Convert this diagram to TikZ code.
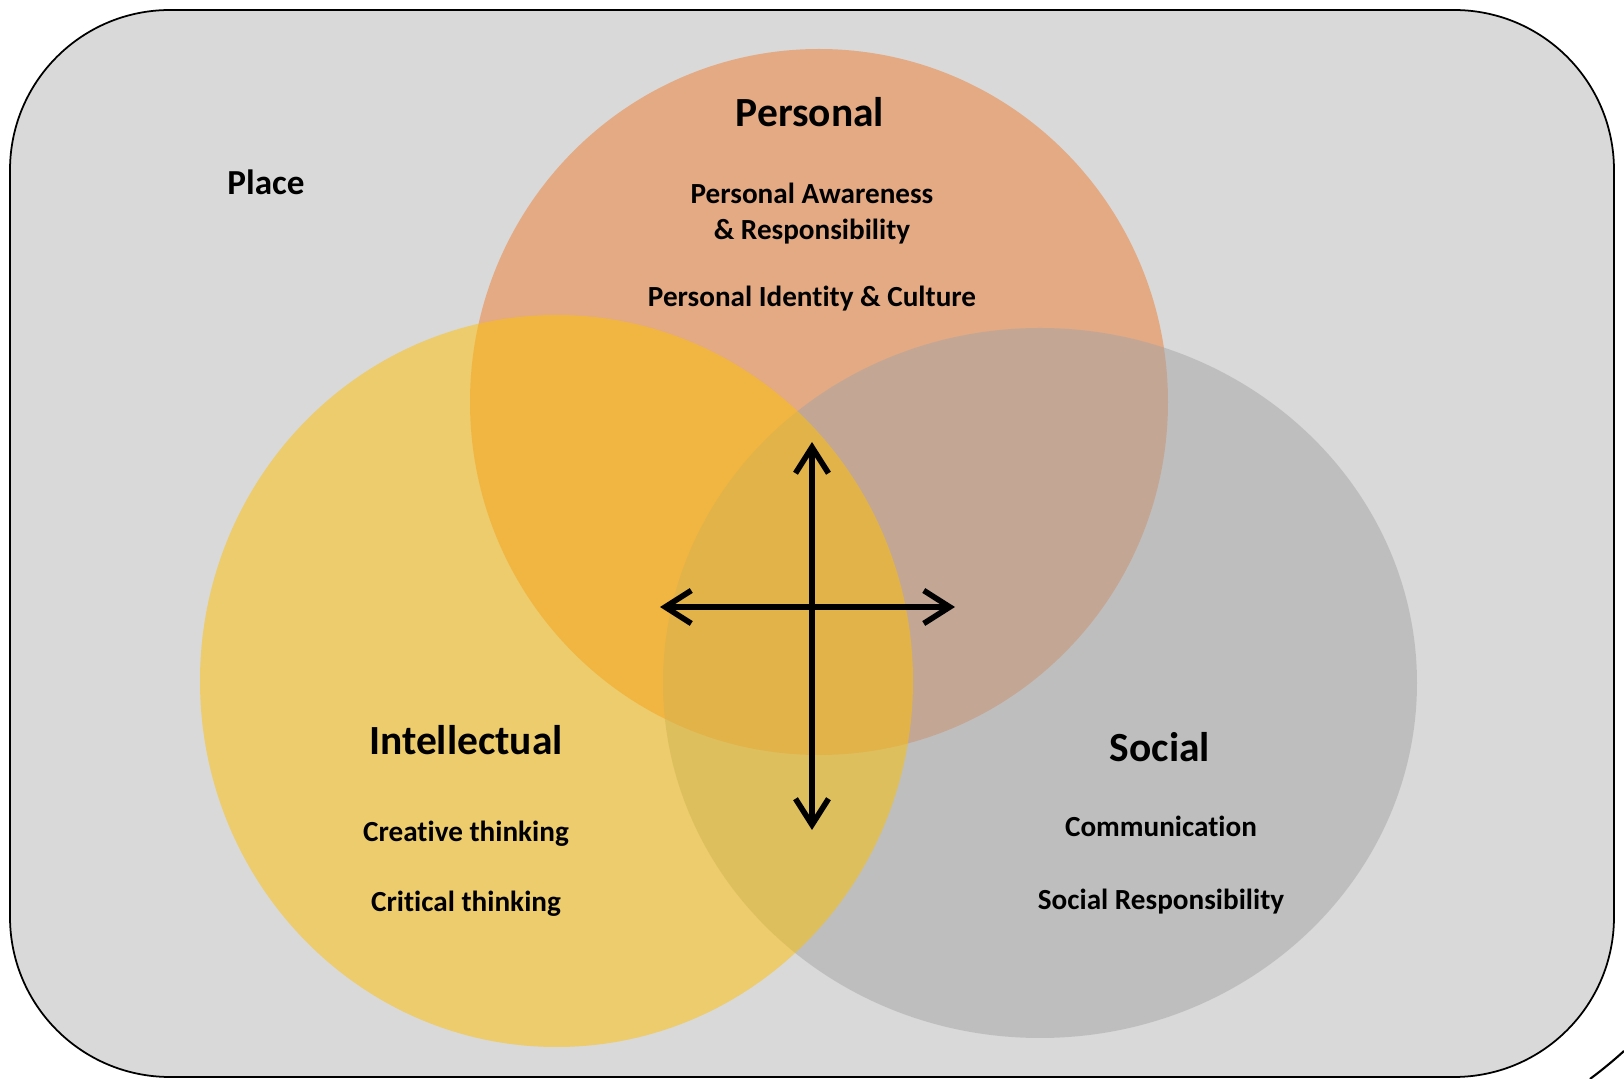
\documentclass[tikz,border=0pt]{standalone}
\usepackage{fontspec}
\setmainfont[Ligatures=NoCommon]{Carlito}
\usetikzlibrary{arrows.meta}
\definecolor{placegrey}{RGB}{217,217,217}
\definecolor{personal}{RGB}{237,125,49}
\definecolor{social}{RGB}{165,165,165}
\definecolor{intellectual}{RGB}{255,192,0}

\begin{document}
\begin{tikzpicture}[inner sep=0mm,
  head/.style={font=\bfseries\fontsize{11.8}{14}\selectfont,anchor=base},
  item/.style={font=\bfseries\fontsize{8.3}{10.5}\selectfont,anchor=base,align=center},
  venn/.style={fill opacity=0.5},
  twoway/.style={{Straight Barb[length=2.6mm,width=3.3mm]}-{Straight Barb[length=2.6mm,width=3.3mm]},line width=1.6pt}]
\useasboundingbox (0,0) rectangle (16.24,10.79);
\draw[fill=placegrey,line width=0.5pt,rounded corners=1.6cm] (0.10,0.02) rectangle (16.14,10.69);
\draw[line width=0.6pt] (15.90,0) .. controls (16.02,0.09) and (16.13,0.18) .. (16.24,0.28);
% the three circles
\fill[personal,venn] (8.19,6.77) ellipse (3.49 and 3.53);
\fill[social,venn] (10.40,3.96) ellipse (3.77 and 3.55);
\fill[intellectual,venn] (5.565,3.98) ellipse (3.565 and 3.66);
\node[font=\bfseries\fontsize{10}{12}\selectfont,anchor=base] (place) at (2.66,8.84) {Place};
\node[head] (pers) at (8.10,9.52) {Personal};
\node[item] (aware) at (8.12,8.39) {Personal Awareness\\ \& Responsibility};
\node[item] (ident) at (8.12,7.72) {Personal Identity \& Culture};
\node[head] (intel) at (4.66,3.24) {Intellectual};
\node[item] (creat) at (4.66,2.37) {Creative thinking};
\node[item] (crit) at (4.66,1.67) {Critical thinking};
\node[head] (soc) at (11.60,3.17) {Social};
\node[item] (comm) at (11.61,2.42) {Communication};
\node[item] (resp) at (11.61,1.69) {Social Responsibility};
% the cross of arrows
\coordinate (up) at (8.12,6.37);
\coordinate (down) at (8.12,2.49);
\coordinate (left) at (6.60,4.72);
\coordinate (right) at (9.55,4.72);
\draw[twoway] (down) -- (up);
\draw[twoway] (left) -- (right);
\end{tikzpicture}
\end{document}
